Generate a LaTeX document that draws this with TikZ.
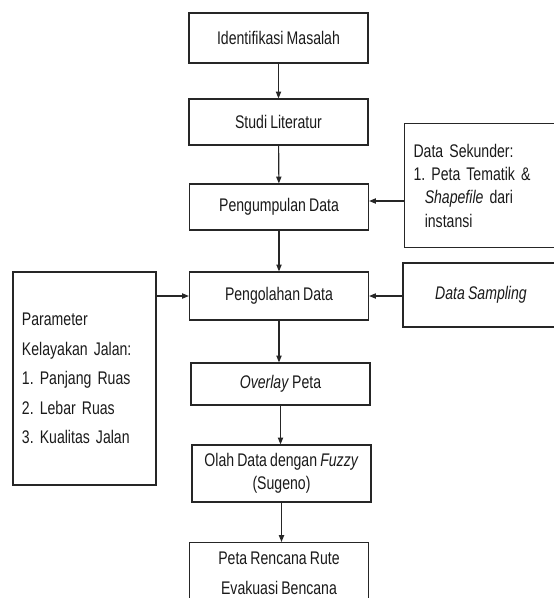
\documentclass[tikz,border=0pt]{standalone}
\usepackage{fontspec}
\setmainfont{Liberation Sans}[FakeStretch=0.77, WordSpace=0.8]
\frenchspacing
\usetikzlibrary{arrows.meta}
\definecolor{ink}{HTML}{1A1A1A}
\definecolor{frame}{HTML}{262626}

\begin{document}
\begin{tikzpicture}[
    x=0.025cm, y=-0.025cm,
    line width=0.8pt, >={Triangle[length=1.7mm,width=1.3mm]},
    color=ink,
    flow/.style={->, draw=frame},
    stage/.style={rectangle, draw=frame, line width=0.8pt, minimum width=4.475cm, align=center,
      inner sep=0pt, text=ink, font=\fontsize{13}{16.5}\selectfont},
    side/.style={rectangle, draw=frame, line width=0.8pt, align=left, inner ysep=0pt,
      inner xsep=0.225cm, text=ink}]
  % fixed canvas, 553 x 598 px
  \useasboundingbox (0,0) rectangle (553,598);

  % ================= main column =================
  \node[stage, minimum height=1.25cm] (ident) at (278.5,38) {Identifikasi Masalah};
  \node[stage, minimum height=1.15cm] (studi) at (278.5,122) {Studi Literatur};
  \node[stage, minimum height=1.15cm] (kumpul) at (279,207) {Pengumpulan Data};
  \node[stage, minimum height=1.2cm] (olah) at (279,296) {Pengolahan Data};
  \node[stage, minimum height=1.05cm] (overlay) at (280.5,384) {\textit{Overlay} Peta};
  \node[stage, minimum height=1.425cm] (fuzzy) at (281.5,473.5) {Olah Data dengan \textit{Fuzzy}\\(Sugeno)};
  \node[stage, minimum height=1.55cm, anchor=north, font=\fontsize{13}{21.3}\selectfont] (peta) at (279,542)
    {Peta Rencana Rute\\Evakuasi Bencana};

  % ================= inputs =================
  \node[side, anchor=north west, minimum height=3.1cm, text width=4.25cm,
    font=\fontsize{13}{16.6}\selectfont] (sekunder) at (404,123)
    {Data Sekunder:\\1. Peta Tematik \&\\\hspace*{2.8mm}\textit{Shapefile} dari\\\hspace*{2.8mm}instansi};
  \node[stage, minimum width=3.9cm, minimum height=1.6cm] (sampling) at (481,295) {\textit{Data Sampling}};
  \node[side, minimum height=5.325cm, text width=3.125cm,
    font=\fontsize{13}{21}\selectfont] (param) at (84.5,378.5)
    {Parameter\\Kelayakan Jalan:\\1. Panjang Ruas\\2. Lebar Ruas\\3. Kualitas Jalan};

  % ================= arrows =================
  \draw[flow] (ident) -- (studi);
  \draw[flow] (studi) -- (kumpul);
  \draw[flow] (kumpul) -- (olah);
  \draw[flow] (olah) -- (overlay.north -| olah.south);
  \draw[flow] (overlay) -- (fuzzy.north -| overlay.south);
  \draw[flow] (fuzzy) -- (peta.north -| fuzzy.south);
  \coordinate (inK) at ([yshift=1.5mm]kumpul.east);
  \draw[flow] (sekunder.west |- inK) -- (inK);
  \draw[flow] (sampling.west |- olah.east) -- (olah.east);
  \draw[flow] (param.east |- olah.west) -- (olah.west);
\end{tikzpicture}
\end{document}
